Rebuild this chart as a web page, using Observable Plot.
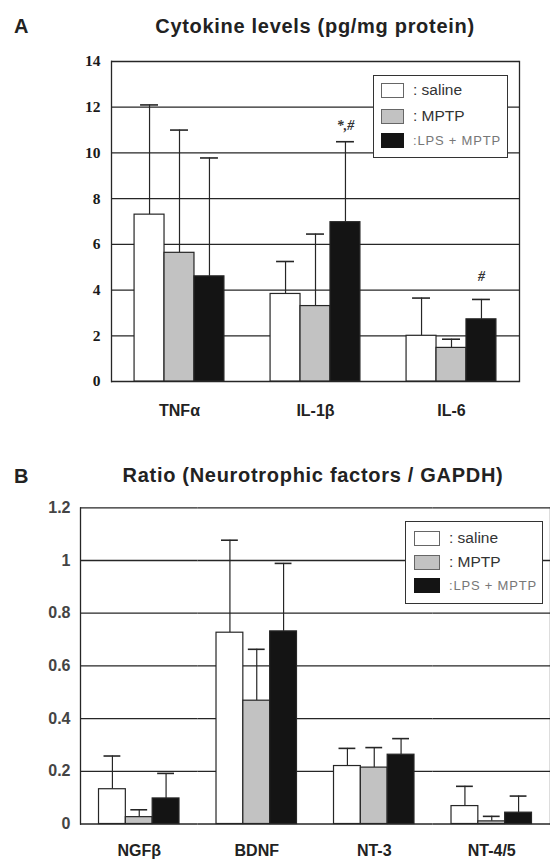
<!DOCTYPE html>
<html>
<head>
<meta charset="utf-8">
<script src="https://cdn.jsdelivr.net/npm/d3@7"></script>
<script src="https://cdn.jsdelivr.net/npm/@observablehq/plot@0.6"></script>
<style>
  body { margin: 0; background: #ffffff; }
  #page { position: relative; width: 550px; height: 861px; overflow: hidden; font-family: "Liberation Sans", Arial, sans-serif; color: #222; }
  .letter { position: absolute; font-weight: bold; font-size: 20px; line-height: 1; color: #222; }
  .title { position: absolute; font-weight: bold; font-size: 20px; letter-spacing: 0.7px; line-height: 1; white-space: nowrap; transform: translateX(-50%); color: #222; }
  .chart { position: absolute; left: 0; }
  .legend { position: absolute; background: #fff; border: 1.6px solid #333; box-sizing: border-box; }
  .legend .row { position: absolute; left: 0; display: flex; align-items: center; white-space: nowrap; }
  .legend .sw { box-sizing: border-box; border: 1.3px solid #666; }
  .legend .lab { font-size: 15.5px; color: #333; margin-left: 9px; }
  .legend .lab.light { font-size: 13px; color: #777; letter-spacing: 0.8px; }
</style>
</head>
<body>
<div id="page">
  <div class="letter" style="left:14px;top:16px;">A</div>
  <div class="title" id="titleA" style="left:315px;top:16px;"></div>
  <div class="chart" id="chartA" style="top:40px;"></div>
  <div class="legend" id="legendA" style="left:373px;top:75px;width:135px;height:83px;"></div>

  <div class="letter" style="left:14px;top:466px;">B</div>
  <div class="title" id="titleB" style="left:313px;top:465px;"></div>
  <div class="chart" id="chartB" style="top:490px;"></div>
  <div class="legend" id="legendB" style="left:405px;top:521px;width:138px;height:83px;"></div>
</div>
<script>
// ---------- data ----------
const groups = ["saline", "MPTP", "LPS + MPTP"];
const groupLabels = [": saline", ": MPTP", ":LPS + MPTP"];
const groupColors = ["#ffffff", "#c2c2c2", "#141414"];

// Panel A: cytokine levels (pg/mg protein)
const titleA = "Cytokine levels (pg/mg protein)";
const cytoCats = ["TNFα", "IL-1β", "IL-6"];
const cytoSaline = [7.3, 3.83, 2.0];
const cytoMPTP = [5.63, 3.3, 1.47];
const cytoLPS = [4.6, 6.97, 2.72];
const cytoSalineErr = [4.8, 1.42, 1.65];
const cytoMPTPErr = [5.37, 3.15, 0.38];
const cytoLPSErr = [5.18, 3.52, 0.87];
const cytoTicks = [0, 2, 4, 6, 8, 10, 12, 14];
const cytoAnnotCats = ["IL-1β", "IL-6"];
const cytoAnnotGroups = ["LPS + MPTP", "LPS + MPTP"];
const cytoAnnotY = [11.2, 4.6];
const cytoAnnotText = ["*,#", "#"];

// Panel B: ratio (neurotrophic factors / GAPDH)
const titleB = "Ratio (Neurotrophic factors / GAPDH)";
const ntCats = ["NGFβ", "BDNF", "NT-3", "NT-4/5"];
const ntSaline = [0.132, 0.726, 0.22, 0.068];
const ntMPTP = [0.026, 0.468, 0.214, 0.01];
const ntLPS = [0.097, 0.731, 0.263, 0.043];
const ntSalineErr = [0.126, 0.351, 0.067, 0.075];
const ntMPTPErr = [0.028, 0.195, 0.076, 0.019];
const ntLPSErr = [0.095, 0.258, 0.061, 0.063];
const ntTicks = [0, 0.2, 0.4, 0.6, 0.8, 1, 1.2];
const ntTickLabels = ["0", "0.2", "0.4", "0.6", "0.8", "1", "1.2"];

// ---------- build ----------
function rowsFor(cats, vals, errs) {
  const rows = [];
  cats.forEach((c, i) => groups.forEach((g, j) => rows.push({cat: c, group: g, value: vals[j][i], err: errs[j][i]})));
  return rows;
}

function barChart(o) {
  const rows = rowsFor(o.cats, o.vals, o.errs);
  const ink = "#262626";
  return Plot.plot({
    width: 550, height: o.height,
    marginLeft: o.marginLeft, marginRight: o.marginRight, marginTop: o.marginTop, marginBottom: o.marginBottom,
    style: {background: "transparent", overflow: "visible"},
    fx: {domain: o.cats, padding: 0, round: false, axis: null, label: null},
    x: {domain: groups, paddingInner: 0, paddingOuter: o.pad, round: false, axis: null},
    y: {domain: [o.ticks[0], o.ticks[o.ticks.length - 1]], axis: null},
    color: {domain: groups, range: groupColors},
    marks: [
      Plot.ruleY(o.ticks, {stroke: ink, strokeWidth: 1.3}),
      Plot.frame({anchor: "left", facetAnchor: "left", stroke: ink, strokeWidth: 1.3}),
      Plot.frame({anchor: "right", facetAnchor: "right", stroke: ink, strokeWidth: 1.3}),
      Plot.axisY({anchor: "left", ticks: o.ticks, tickSize: 0, tickPadding: o.yPad, label: null,
        tickFormat: o.yFormat, fontFamily: o.yFont, fontSize: o.yFontSize, fontWeight: "bold", fill: o.yColor}),
      Plot.ruleX(rows, {fx: "cat", x: "group", y1: "value", y2: d => d.value + d.err, stroke: ink, strokeWidth: 1.2}),
      Plot.barY(rows, {fx: "cat", x: "group", y: "value", fill: "group", stroke: ink, strokeWidth: 1.2}),
      Plot.tickY(rows, {fx: "cat", x: "group", y: d => d.value + d.err, insetLeft: o.capInset, insetRight: o.capInset, stroke: ink, strokeWidth: 1.6}),
      Plot.text(o.annot || [], {fx: "cat", x: "group", y: "y", text: "label", fontFamily: "Liberation Serif, serif", fontStyle: "italic", fontWeight: "bold", fontSize: 14, fill: "#333"}),
      Plot.axisFx({anchor: "bottom", tickSize: 0, tickPadding: o.xPad, label: null, fontFamily: "Liberation Sans, Arial, sans-serif", fontSize: 16, fontWeight: "bold", fill: "#222"})
    ]
  });
}

const annotA = cytoAnnotCats.map((c, i) => ({cat: c, group: cytoAnnotGroups[i], y: cytoAnnotY[i], label: cytoAnnotText[i]}));

document.getElementById("titleA").textContent = titleA;
document.getElementById("titleB").textContent = titleB;

document.getElementById("chartA").appendChild(barChart({
  cats: cytoCats, vals: [cytoSaline, cytoMPTP, cytoLPS], errs: [cytoSalineErr, cytoMPTPErr, cytoLPSErr],
  ticks: cytoTicks, yFormat: d => String(d), yFont: "Liberation Serif, serif", yFontSize: 15.5, yColor: "#1a1a1a",
  height: 400, marginLeft: 111, marginRight: 31, marginTop: 21, marginBottom: 59,
  pad: 0.77, yPad: 11, xPad: 23, capInset: 6, annot: annotA
}));

document.getElementById("chartB").appendChild(barChart({
  cats: ntCats, vals: [ntSaline, ntMPTP, ntLPS], errs: [ntSalineErr, ntMPTPErr, ntLPSErr],
  ticks: ntTicks, yFormat: d => ntTickLabels[ntTicks.indexOf(d)], yFont: "Liberation Sans, Arial, sans-serif", yFontSize: 16, yColor: "#444",
  height: 371, marginLeft: 80, marginRight: 0, marginTop: 17.3, marginBottom: 37.5,
  pad: 0.69, yPad: 10, xPad: 21, capInset: 5
}));

function legend(id, swW, swH, swLeft, rowTops) {
  const el = document.getElementById(id);
  groups.forEach((g, i) => {
    const row = document.createElement("div");
    row.className = "row";
    row.style.top = rowTops[i] + "px";
    row.style.left = swLeft + "px";
    const sw = document.createElement("div");
    sw.className = "sw";
    sw.style.width = swW + "px";
    sw.style.height = swH + "px";
    sw.style.background = groupColors[i];
    if (i === 2) sw.style.borderColor = "#141414";
    const lab = document.createElement("span");
    lab.className = "lab" + (i === 2 ? " light" : "");
    lab.textContent = groupLabels[i];
    row.appendChild(sw);
    row.appendChild(lab);
    el.appendChild(row);
  });
}
legend("legendA", 23, 15, 7, [5, 31, 57]);
legend("legendB", 26, 15, 8, [7, 31, 56]);
</script>
</body>
</html>
